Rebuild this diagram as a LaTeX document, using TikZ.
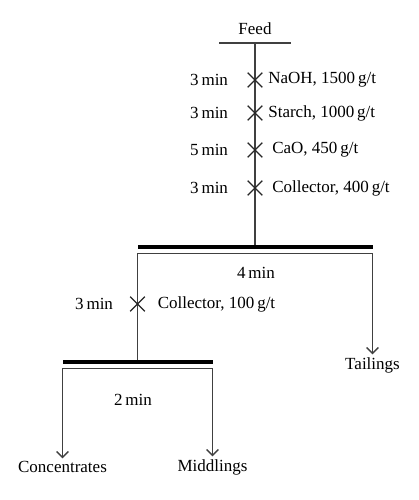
\documentclass[tikz,border=0pt]{standalone}
\usepackage{fontspec}
\setmainfont{Liberation Serif}
\usetikzlibrary{arrows.meta,calc,positioning,shapes.misc}
\newdimen\pdim
\pdim=0.6pt
\tikzstyle{stagetext}=[
  font={\fontsize{10.2}{12}\selectfont},
  inner sep=0pt,
  outer sep=0pt,
  text=black,
]
\tikzstyle{reagent}=[
  cross out,
  draw=black!85,
  line width=0.8pt,
  minimum size=8pt,
  inner sep=0pt,
]
\tikzstyle{cell}=[
  rectangle,
  fill=black,
  minimum height=4\pdim,
  inner sep=0pt,
  outer sep=0pt,
]
\tikzstyle{flow}=[
  color=black!75,
  line width=0.8pt,
]
\tikzset{
  x=\pdim, y=-\pdim,
  >={Straight Barb[length=3.5pt,width=7pt]},
}
\begin{document}
\begin{tikzpicture}
      \useasboundingbox (0,0) rectangle (419,500);
      \node (feed) [stagetext] at (255,29) {Feed};
      \coordinate (F1) at (219,43);
      \coordinate (F2) at (291,43);
      \coordinate (F) at ($(F1)!.5!(F2)$);
      %%
      \node (rougher) [cell, minimum width=235\pdim] at (255,247) {};
      \coordinate (RL) at ([yshift=-4\pdim]rougher.south west);
      \coordinate (RR) at ([yshift=-4\pdim]rougher.south east);
      \node (roughtime) [stagetext] at (256,273) {4\,min};
      %%
      \node (cleaner) [cell, minimum width=150\pdim] at (RL |- 0,362) {};
      \coordinate (CL) at ([yshift=-4\pdim]cleaner.south west);
      \coordinate (CR) at ([yshift=-4\pdim]cleaner.south east);
      \node (cleantime) [stagetext] at (133,400) {2\,min};
      %%
      \node (tailings) [stagetext] at (RR |- 0,365) {Tailings};
      \node (conc) [stagetext] at (CL |- 0,467) {Concentrates};
      \node (midd) [stagetext] at (CR |- 0,467) {Middlings};
      %%
      \draw [flow] (F1) -- (F2);
      \draw [flow] (F) -- (F |- rougher.north);
      \draw [flow, line width=0.6pt] (RL) -- (RR);
      \draw [flow, line width=0.6pt] (CL) -- (CR);
      \draw [flow] (RL) -- (RL |- cleaner.north);
      \draw [flow, ->] (RR) -- ([yshift=3\pdim]tailings.north);
      \draw [flow, ->] (CL) -- ([yshift=3\pdim]conc.north);
      \draw [flow, ->] (CR) -- ([yshift=3\pdim]midd.north);
      %%
      \node (naoh) [reagent] at (F |- 0,80) {};
      \node (starch) [reagent] at (F |- 0,113) {};
      \node (cao) [reagent] at (F |- 0,150) {};
      \node (coll) [reagent] at (F |- 0,188) {};
      \node (coll2) [reagent] at (RL |- 0,304) {};
      %%
      \node [stagetext, anchor=east] at (228,80) {3\,min};
      \node [stagetext, anchor=east] at (228,113) {3\,min};
      \node [stagetext, anchor=east] at (228,150) {5\,min};
      \node [stagetext, anchor=east] at (228,188) {3\,min};
      \node [stagetext, anchor=east] at (113,304) {3\,min};
      \node [stagetext, right=6\pdim of naoh] {NaOH, 1500\,g/t};
      \node [stagetext, right=6\pdim of starch] {Starch, 1000\,g/t};
      \node [stagetext, right=10\pdim of cao] {CaO, 450\,g/t};
      \node [stagetext, right=10\pdim of coll] {Collector, 400\,g/t};
      \node [stagetext, right=13\pdim of coll2] {Collector, 100\,g/t};
    \end{tikzpicture}
\end{document}
